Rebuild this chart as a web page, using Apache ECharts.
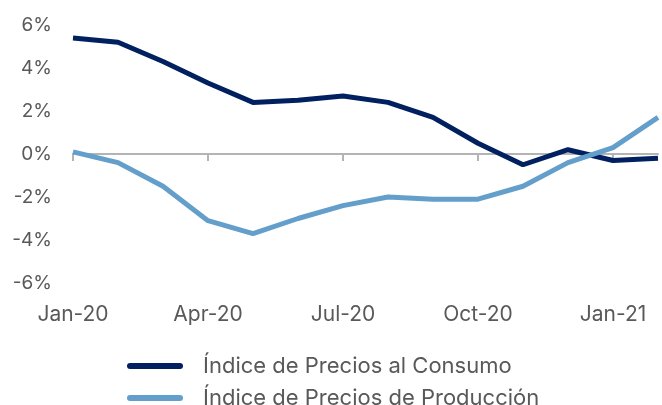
<!DOCTYPE html>
<html>
<head>
<meta charset="utf-8">
<script src="https://cdn.jsdelivr.net/npm/echarts@6/dist/echarts.min.js"></script>
<style>
  html, body { margin: 0; padding: 0; background: #fff; }
  #chart { width: 662px; height: 405px; }
</style>
</head>
<body>
<div id="chart"></div>
<script>
// meses, ene-2020 a feb-2021
const months = ['Jan-20', 'Feb-20', 'Mar-20', 'Apr-20', 'May-20', 'Jun-20', 'Jul-20',
  'Aug-20', 'Sep-20', 'Oct-20', 'Nov-20', 'Dec-20', 'Jan-21', 'Feb-21'];
const ipc = [5.4, 5.2, 4.3, 3.3, 2.4, 2.5, 2.7, 2.4, 1.7, 0.5, -0.5, 0.2, -0.3, -0.2];
const ipp = [0.1, -0.4, -1.5, -3.1, -3.7, -3.0, -2.4, -2.0, -2.1, -2.1, -1.5, -0.4, 0.3, 1.7];
const seriesNames = ['Índice de Precios al Consumo', 'Índice de Precios de Producción'];
const colors = ['#002060', '#649fcb'];

const font = 'Inter, sans-serif';
const chart = echarts.init(document.getElementById('chart'));

function legendRow(name, top) {
  return {
    left: 122,
    top: top,
    icon: 'path://M3,0 L53,0 A3,3 0 0 1 53,6 L3,6 A3,3 0 0 1 3,0 Z',
    itemWidth: 56,
    itemHeight: 6,
    textStyle: { fontFamily: font, fontSize: 22, color: '#595959', padding: [0, 0, 0, 15] },
    data: [name]
  };
}

chart.setOption({
  animation: false,
  grid: { left: 73, right: 4, top: 25, bottom: 122 },
  legend: [legendRow(seriesNames[0], 350), legendRow(seriesNames[1], 382)],
  xAxis: [
    {
      // linea del cero con marcas
      type: 'category',
      data: months,
      boundaryGap: false,
      axisLine: { onZero: true, lineStyle: { color: '#b4b4b4', width: 2 } },
      axisTick: { show: true, interval: 2, length: 7, lineStyle: { color: '#b4b4b4', width: 2 } },
      axisLabel: { show: false }
    },
    {
      // etiquetas abajo
      type: 'category',
      data: months,
      boundaryGap: false,
      position: 'bottom',
      axisLine: { show: false, onZero: false },
      axisTick: { show: false },
      axisLabel: {
        interval: 2,
        fontFamily: font,
        fontSize: 21,
        color: '#595959',
        margin: 21
      }
    }
  ],
  yAxis: {
    type: 'value',
    min: -6,
    max: 6,
    interval: 2,
    axisLine: { show: false },
    axisTick: { show: false },
    splitLine: { show: false },
    axisLabel: {
      formatter: '{value}%',
      fontFamily: font,
      fontSize: 19,
      color: '#595959',
      margin: 21
    }
  },
  series: [
    {
      name: seriesNames[0],
      type: 'line',
      data: ipc,
      symbol: 'none',
      lineStyle: { color: colors[0], width: 5 },
      itemStyle: { color: colors[0] }
    },
    {
      name: seriesNames[1],
      type: 'line',
      data: ipp,
      symbol: 'none',
      lineStyle: { color: colors[1], width: 5 },
      itemStyle: { color: colors[1] }
    }
  ]
});
</script>
</body>
</html>
